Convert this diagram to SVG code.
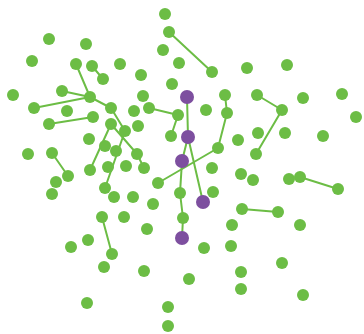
<svg xmlns="http://www.w3.org/2000/svg" width="364" height="334" viewBox="0 0 364 334">
<style>
.g{fill:#6cbd45}
.p{fill:#7d4f9f}
.e{stroke:#6cbd45;stroke-width:2;fill:none;stroke-linecap:round}
</style>
<rect width="364" height="334" fill="#fff"/>
<g id="connectors" class="e">
<line x1="169" y1="32" x2="212" y2="72"/>
<line x1="92" y1="66" x2="103" y2="79"/>
<line x1="76" y1="64" x2="90" y2="97"/>
<line x1="62" y1="91" x2="90" y2="97"/>
<line x1="34" y1="108" x2="90" y2="97"/>
<line x1="90" y1="97" x2="111" y2="108"/>
<line x1="49" y1="124" x2="93" y2="117"/>
<line x1="52" y1="153" x2="68" y2="176"/>
<line x1="111" y1="124" x2="90" y2="170"/>
<line x1="111" y1="108" x2="125" y2="131"/>
<line x1="125" y1="131" x2="105" y2="188"/>
<line x1="111" y1="124" x2="137" y2="154"/>
<line x1="137" y1="154" x2="144" y2="168"/>
<line x1="149" y1="108" x2="178" y2="115"/>
<line x1="178" y1="115" x2="171" y2="136"/>
<line x1="187" y1="97" x2="188" y2="137"/>
<line x1="188" y1="137" x2="182" y2="161"/>
<line x1="188" y1="137" x2="203" y2="202"/>
<line x1="182" y1="161" x2="180" y2="193"/>
<line x1="180" y1="193" x2="183" y2="218"/>
<line x1="183" y1="218" x2="182" y2="238"/>
<line x1="225" y1="95" x2="227" y2="113"/>
<line x1="227" y1="113" x2="218" y2="148"/>
<line x1="218" y1="148" x2="158" y2="183"/>
<line x1="257" y1="95" x2="282" y2="110"/>
<line x1="282" y1="110" x2="256" y2="154"/>
<line x1="300" y1="177" x2="338" y2="189"/>
<line x1="242" y1="209" x2="278" y2="212"/>
<line x1="102" y1="217" x2="112" y2="254"/>
</g>
<g id="n1"><circle class="g" cx="165" cy="14" r="6"/></g>
<g id="n2"><circle class="g" cx="49" cy="39" r="6"/></g>
<g id="n3"><circle class="g" cx="86" cy="44" r="6"/></g>
<g id="n4"><circle class="g" cx="169" cy="32" r="6"/></g>
<g id="n5"><circle class="g" cx="212" cy="72" r="6"/></g>
<g id="n6"><circle class="g" cx="163" cy="50" r="6"/></g>
<g id="n7"><circle class="g" cx="32" cy="61" r="6"/></g>
<g id="n8"><circle class="g" cx="76" cy="64" r="6"/></g>
<g id="n9"><circle class="g" cx="92" cy="66" r="6"/></g>
<g id="n10"><circle class="g" cx="103" cy="79" r="6"/></g>
<g id="n11"><circle class="g" cx="120" cy="64" r="6"/></g>
<g id="n12"><circle class="g" cx="179" cy="63" r="6"/></g>
<g id="n13"><circle class="g" cx="247" cy="68" r="6"/></g>
<g id="n14"><circle class="g" cx="287" cy="65" r="6"/></g>
<g id="n15"><circle class="g" cx="141" cy="75" r="6"/></g>
<g id="n16"><circle class="g" cx="172" cy="84" r="6"/></g>
<g id="n17"><circle class="g" cx="13" cy="95" r="6"/></g>
<g id="n18"><circle class="g" cx="62" cy="91" r="6"/></g>
<g id="n19"><circle class="g" cx="90" cy="97" r="6"/></g>
<g id="n20"><circle class="g" cx="111" cy="108" r="6"/></g>
<g id="n21"><circle class="g" cx="34" cy="108" r="6"/></g>
<g id="n22"><circle class="g" cx="67" cy="111" r="6"/></g>
<g id="n23"><circle class="g" cx="93" cy="117" r="6"/></g>
<g id="n24"><circle class="g" cx="143" cy="96" r="6"/></g>
<g id="n25"><circle class="g" cx="225" cy="95" r="6"/></g>
<g id="n26"><circle class="g" cx="134" cy="111" r="6"/></g>
<g id="n27"><circle class="g" cx="149" cy="108" r="6"/></g>
<g id="n28"><circle class="g" cx="178" cy="115" r="6"/></g>
<g id="n29"><circle class="g" cx="206" cy="110" r="6"/></g>
<g id="n30"><circle class="g" cx="227" cy="113" r="6"/></g>
<g id="n31"><circle class="g" cx="257" cy="95" r="6"/></g>
<g id="n32"><circle class="g" cx="282" cy="110" r="6"/></g>
<g id="n33"><circle class="g" cx="303" cy="98" r="6"/></g>
<g id="n34"><circle class="g" cx="342" cy="94" r="6"/></g>
<g id="n35"><circle class="g" cx="356" cy="117" r="6"/></g>
<g id="n36"><circle class="g" cx="49" cy="124" r="6"/></g>
<g id="n37"><circle class="g" cx="111" cy="124" r="6"/></g>
<g id="n38"><circle class="g" cx="89" cy="139" r="6"/></g>
<g id="n39"><circle class="g" cx="105" cy="146" r="6"/></g>
<g id="n40"><circle class="g" cx="116" cy="151" r="6"/></g>
<g id="n41"><circle class="g" cx="28" cy="154" r="6"/></g>
<g id="n42"><circle class="g" cx="52" cy="153" r="6"/></g>
<g id="n43"><circle class="g" cx="68" cy="176" r="6"/></g>
<g id="n44"><circle class="g" cx="125" cy="131" r="6"/></g>
<g id="n45"><circle class="g" cx="138" cy="126" r="6"/></g>
<g id="n46"><circle class="g" cx="90" cy="170" r="6"/></g>
<g id="n47"><circle class="g" cx="108" cy="167" r="6"/></g>
<g id="n48"><circle class="g" cx="126" cy="166" r="6"/></g>
<g id="n49"><circle class="g" cx="144" cy="168" r="6"/></g>
<g id="n50"><circle class="g" cx="137" cy="154" r="6"/></g>
<g id="n51"><circle class="g" cx="56" cy="182" r="6"/></g>
<g id="n52"><circle class="g" cx="52" cy="194" r="6"/></g>
<g id="n53"><circle class="g" cx="105" cy="188" r="6"/></g>
<g id="n54"><circle class="g" cx="114" cy="197" r="6"/></g>
<g id="n55"><circle class="g" cx="133" cy="197" r="6"/></g>
<g id="n56"><circle class="g" cx="102" cy="217" r="6"/></g>
<g id="n57"><circle class="g" cx="124" cy="217" r="6"/></g>
<g id="n58"><circle class="g" cx="171" cy="136" r="6"/></g>
<g id="n59"><circle class="g" cx="218" cy="148" r="6"/></g>
<g id="n60"><circle class="g" cx="238" cy="140" r="6"/></g>
<g id="n61"><circle class="g" cx="212" cy="168" r="6"/></g>
<g id="n62"><circle class="g" cx="158" cy="183" r="6"/></g>
<g id="n63"><circle class="g" cx="180" cy="193" r="6"/></g>
<g id="n64"><circle class="g" cx="213" cy="192" r="6"/></g>
<g id="n65"><circle class="g" cx="153" cy="204" r="6"/></g>
<g id="n66"><circle class="g" cx="183" cy="218" r="6"/></g>
<g id="n67"><circle class="g" cx="241" cy="174" r="6"/></g>
<g id="n68"><circle class="g" cx="242" cy="209" r="6"/></g>
<g id="n69"><circle class="g" cx="232" cy="225" r="6"/></g>
<g id="n70"><circle class="g" cx="258" cy="133" r="6"/></g>
<g id="n71"><circle class="g" cx="285" cy="133" r="6"/></g>
<g id="n72"><circle class="g" cx="323" cy="136" r="6"/></g>
<g id="n73"><circle class="g" cx="256" cy="154" r="6"/></g>
<g id="n74"><circle class="g" cx="253" cy="180" r="6"/></g>
<g id="n75"><circle class="g" cx="289" cy="179" r="6"/></g>
<g id="n76"><circle class="g" cx="300" cy="177" r="6"/></g>
<g id="n77"><circle class="g" cx="338" cy="189" r="6"/></g>
<g id="n78"><circle class="g" cx="278" cy="212" r="6"/></g>
<g id="n79"><circle class="g" cx="300" cy="225" r="6"/></g>
<g id="n80"><circle class="g" cx="88" cy="240" r="6"/></g>
<g id="n81"><circle class="g" cx="71" cy="247" r="6"/></g>
<g id="n82"><circle class="g" cx="112" cy="254" r="6"/></g>
<g id="n83"><circle class="g" cx="104" cy="267" r="6"/></g>
<g id="n84"><circle class="g" cx="87" cy="303" r="6"/></g>
<g id="n85"><circle class="g" cx="147" cy="229" r="6"/></g>
<g id="n86"><circle class="g" cx="204" cy="248" r="6"/></g>
<g id="n87"><circle class="g" cx="231" cy="246" r="6"/></g>
<g id="n88"><circle class="g" cx="144" cy="271" r="6"/></g>
<g id="n89"><circle class="g" cx="189" cy="279" r="6"/></g>
<g id="n90"><circle class="g" cx="241" cy="272" r="6"/></g>
<g id="n91"><circle class="g" cx="241" cy="289" r="6"/></g>
<g id="n92"><circle class="g" cx="168" cy="307" r="6"/></g>
<g id="n93"><circle class="g" cx="168" cy="326" r="6"/></g>
<g id="n94"><circle class="g" cx="282" cy="263" r="6"/></g>
<g id="n95"><circle class="g" cx="303" cy="295" r="6"/></g>
<g id="p1"><circle class="p" cx="187" cy="97" r="7"/></g>
<g id="p2"><circle class="p" cx="188" cy="137" r="7"/></g>
<g id="p3"><circle class="p" cx="182" cy="161" r="7"/></g>
<g id="p4"><circle class="p" cx="203" cy="202" r="7"/></g>
<g id="p5"><circle class="p" cx="182" cy="238" r="7"/></g>
</svg>
